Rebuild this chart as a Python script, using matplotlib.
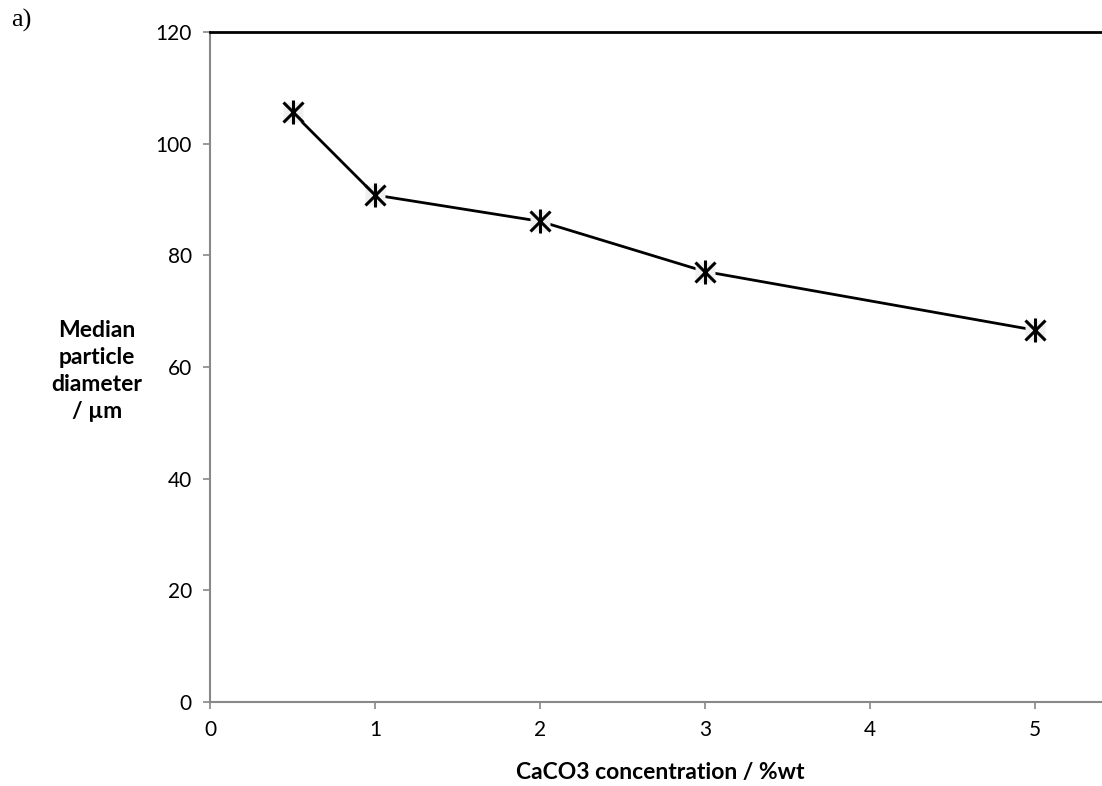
import matplotlib.pyplot as plt

# CaCO3 concentration (%wt) vs median particle diameter (um)
conc = [0.5, 1, 2, 3, 5]
diameter = [105.6, 90.8, 86.1, 77.1, 66.6]
x_ticks = [0, 1, 2, 3, 4, 5]
y_ticks = [0, 20, 40, 60, 80, 100, 120]

plt.rcParams['font.family'] = ['Lato', 'DejaVu Sans']
fig = plt.figure(figsize=(11.02, 7.86), dpi=100)
ax = fig.add_axes([210 / 1102, 84 / 786, 892 / 1102, 670 / 786])

ax.plot(conc, diameter, color='black', lw=2, zorder=2)
# asterisk-style markers on light grey squares
ax.plot(conc, diameter, ls='none', marker='s', ms=15, mfc='#f0f0f0', mec='none', zorder=3)
ax.plot(conc, diameter, ls='none', marker='x', ms=14, mec='black', mew=2.2, zorder=4)
ax.plot(conc, diameter, ls='none', marker='|', ms=17, mec='black', mew=2.2, zorder=4)

ax.set_xlim(0, 892 / 165)
ax.set_ylim(0, 120)
ax.set_xticks(x_ticks)
ax.set_yticks(y_ticks)
ax.axhline(120, color='black', lw=2, clip_on=False, zorder=5)

for side in ['top', 'right']:
    ax.spines[side].set_visible(False)
for side in ['left', 'bottom']:
    ax.spines[side].set_color('#888888')
    ax.spines[side].set_linewidth(1.5)
ax.tick_params(direction='out', length=5, width=1.2, color='#888888',
               labelsize=15, pad=8)

fig.text(660 / 1102, 1 - 772 / 786, 'CaCO3 concentration / %wt', ha='center', va='center',
         fontsize=16.5, fontweight='bold')
fig.text(97 / 1102, 1 - 371 / 786, 'Median\nparticle\ndiameter\n/ µm', ha='center', va='center',
         fontsize=16.5, fontweight='bold', linespacing=1.35)
fig.text(21 / 1102, 1 - 20 / 786, 'a)', ha='center', va='center', fontsize=19,
         family='Liberation Serif')

fig.savefig('out.png', dpi=100)
